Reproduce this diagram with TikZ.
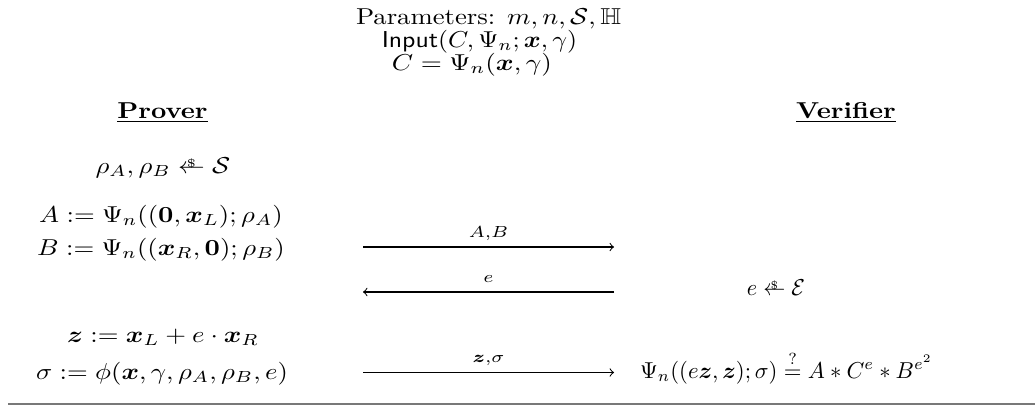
\documentclass[tikz,border=0pt]{standalone}
\usepackage{amsmath,amssymb,bm}
\usepackage{graphicx}
\definecolor{rulegray}{RGB}{120,120,120}
\newcommand\hs[2][1.16]{\scalebox{#1}[1]{#2}}
\newcommand\rnd{\mathrel{\vbox{\offinterlineskip\halign{\hfil##\hfil\cr
  $\scriptscriptstyle\$$\cr\noalign{\kern-1.6pt}$\leftarrow$\cr}}}}
\begin{document}
\begin{tikzpicture}[x=0.434783pt,y=-0.434783pt,
  txt/.style={anchor=base,inner sep=0pt},
  msg/.style={->,line width=0.45pt},
  lbl/.style={midway,anchor=base,yshift=4.2pt,inner sep=0pt}]
\useasboundingbox (0,0) rectangle (1035,405);
% header
\node[txt] (par) at (488.5,24) {\hs{Parameters: $m,n,\mathcal{S},\mathbb{H}$}};
\node[txt] (inp) at (479.5,47.5) {\hs[1.12]{$\mathsf{Input}(C,\Psi_n;\bm{x},\gamma)$}};
\node[txt] (ceq) at (472,70) {\hs[1.18]{$C=\Psi_n(\bm{x},\gamma)$}};
\node[txt] (prover) at (162.5,118) {\hs{\underline{\textbf{Prover}}}};
\node[txt] (verifier) at (846,118) {\hs{\underline{\textbf{Verifier}}}};
% prover
\node[txt] (p1) at (163,173) {\hs{$\rho_A,\rho_B\rnd\mathcal{S}$}};
\node[txt] (p2) at (161,222.5) {\hs{$A:=\Psi_n((\mathbf{0},\bm{x}_L);\rho_A)$}};
\node[txt] (p3) at (161,255) {\hs{$B:=\Psi_n((\bm{x}_R,\mathbf{0});\rho_B)$}};
\node[txt] (p4) at (163,342) {\hs{$\bm{z}:=\bm{x}_L+e\cdot\bm{x}_R$}};
\node[txt] (p5) at (162,379) {\hs{$\sigma:=\phi(\bm{x},\gamma,\rho_A,\rho_B,e)$}};
% verifier
\node[txt] (v1) at (776,295) {\hs[0.96]{$e\rnd\mathcal{E}$}};
\node[txt] (v2) at (786.5,378) {\hs[0.99]{$\Psi_n((e\bm{z},\bm{z});\sigma)\stackrel{?}{=}A\ast C^e\ast B^{e^2}$}};
% messages
\coordinate (m1l) at (363,247);
\coordinate (m1r) at (614,247);
\coordinate (m2l) at (363,292);
\coordinate (m2r) at (614,292);
\coordinate (m3l) at (363,372.5);
\coordinate (m3r) at (614,372.5);
\draw[msg] (m1l) -- node[lbl] {\hs{$\scriptstyle A,B$}} (m1r);
\draw[msg] (m2r) -- node[lbl] {\hs{$\scriptstyle e$}} (m2l);
\draw[msg] (m3l) -- node[lbl] {\hs{$\scriptstyle \bm{z},\sigma$}} (m3r);
% bottom rule
\fill[rulegray] (8,402.6) rectangle (1035,405);
\end{tikzpicture}
\end{document}
